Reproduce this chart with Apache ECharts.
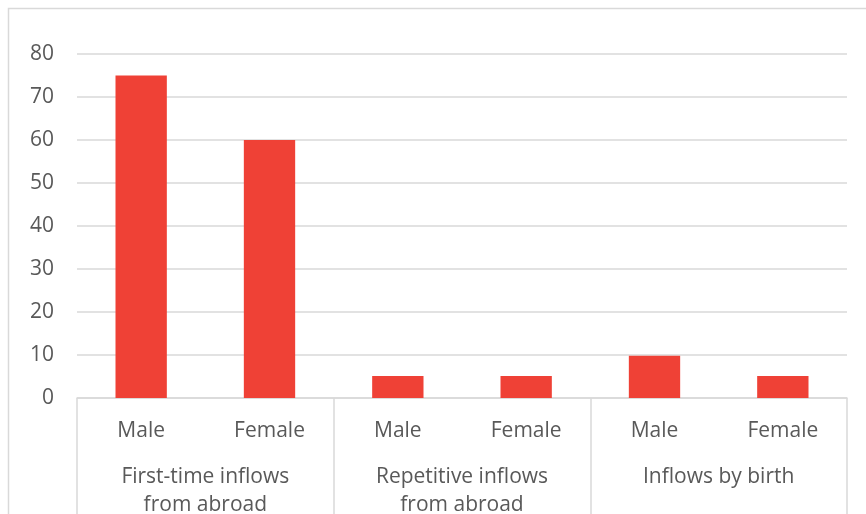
<!DOCTYPE html>
<html>
<head>
<meta charset="utf-8">
<script src="https://cdn.jsdelivr.net/npm/echarts@6/dist/echarts.min.js"></script>
<style>
  html, body { margin: 0; padding: 0; background: #ffffff; }
  #chart { width: 866px; height: 514px; }
</style>
</head>
<body>
<div id="chart"></div>
<script>
// Inflow groups (outer level of the category axis)
const groups = ['First-time inflows\nfrom abroad', 'Repetitive inflows\nfrom abroad', 'Inflows by birth'];
// Inner level: one bar per sex within each group
const categories = ['Male', 'Female', 'Male', 'Female', 'Male', 'Female'];
const values = [75, 60, 5.1, 5.1, 9.8, 5.1];
// Value axis range
const yMin = 0;
const yMax = 80;
const yStep = 10;

const textColor = '#595959';
const lineColor = '#d9d9d9';
const fontFamily = '"Open Sans", "Noto Sans", sans-serif';
const fontSize = 21;

const chart = echarts.init(document.getElementById('chart'), null, { renderer: 'canvas' });

chart.setOption({
  backgroundColor: '#ffffff',
  animation: false,
  textStyle: { fontFamily: fontFamily },
  graphic: [{
    type: 'rect',
    silent: true,
    shape: { x: 8.5, y: 8.5, width: 900, height: 600 },
    style: { fill: 'none', stroke: lineColor, lineWidth: 1.5 }
  }],
  grid: { left: 77, right: 19, top: 54, bottom: 116, containLabel: false, outerBoundsMode: 'none' },
  xAxis: [
    {
      type: 'category',
      data: categories,
      position: 'bottom',
      boundaryGap: true,
      axisLine: { show: true, lineStyle: { color: lineColor, width: 1.5 } },
      axisTick: { show: false },
      splitLine: { show: false },
      axisLabel: {
        color: textColor, fontSize: fontSize, fontFamily: fontFamily,
        margin: 22, lineHeight: 22, interval: 0
      }
    },
    {
      type: 'category',
      data: groups,
      position: 'bottom',
      boundaryGap: true,
      axisLine: { show: false },
      axisTick: { show: true, length: 125, interval: 0, lineStyle: { color: lineColor, width: 1.5 } },
      splitLine: { show: false },
      axisLabel: {
        color: textColor, fontSize: fontSize, fontFamily: fontFamily,
        margin: 65, lineHeight: 28, interval: 0, align: 'center'
      }
    }
  ],
  yAxis: {
    type: 'value',
    min: yMin,
    max: yMax,
    interval: yStep,
    axisLine: { show: false },
    axisTick: { show: false },
    splitLine: { show: true, lineStyle: { color: lineColor, width: 1.5 } },
    axisLabel: { color: textColor, fontSize: fontSize, fontFamily: fontFamily, margin: 23 }
  },
  series: [{
    type: 'bar',
    xAxisIndex: 0,
    data: values,
    barWidth: '40%',
    itemStyle: { color: '#ef4136' },
    emphasis: { disabled: true }
  }]
});
</script>
</body>
</html>
